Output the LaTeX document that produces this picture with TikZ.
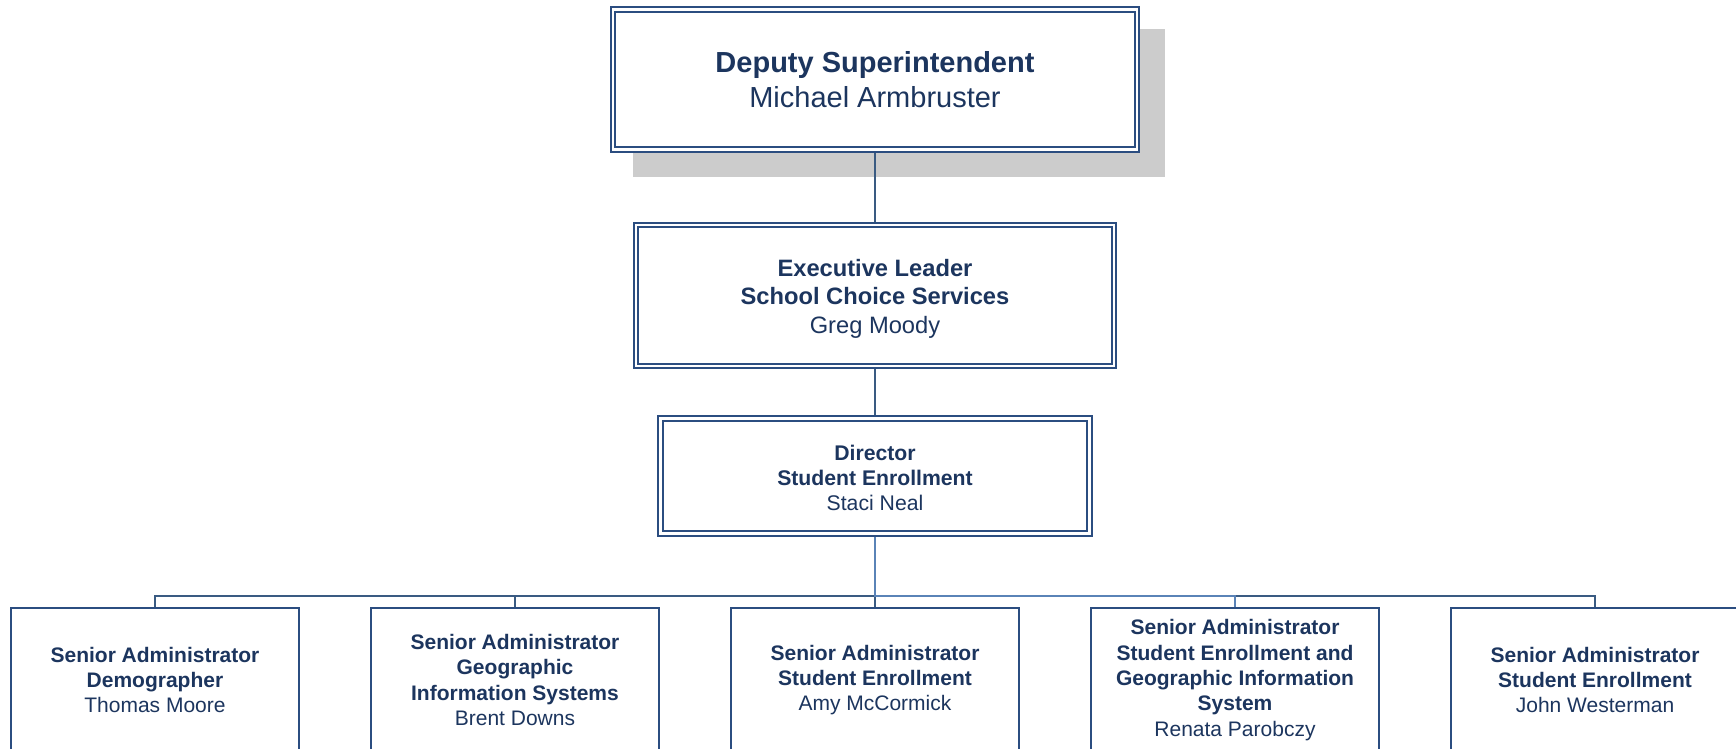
\documentclass[tikz,border=0pt]{standalone}
\usepackage{fontspec}
\setmainfont{Liberation Sans}
\usetikzlibrary{backgrounds}
\definecolor{boxblue}{HTML}{2B4D80}
\definecolor{txtblue}{HTML}{1C355E}
\definecolor{linedark}{HTML}{3A5B82}
\definecolor{linelight}{HTML}{5A83B7}
\definecolor{shadowgray}{HTML}{CCCCCC}
\begin{document}
\begin{tikzpicture}[x=0.5pt,y=-0.5pt,
  dbox/.style={draw=boxblue, double=white, line width=1pt, double distance=1.2pt,
    fill=white, align=center, text=txtblue, inner sep=0pt},
  sbox/.style={draw=boxblue, line width=1pt, fill=white, align=center, text=txtblue,
    minimum width=144pt, minimum height=72pt, inner sep=0pt,
    font=\fontsize{10.5}{12.65}\selectfont},
  conn/.style={draw=linedark, line width=0.8pt},
  connl/.style={draw=linelight, line width=0.8pt}]
\useasboundingbox (0,0) rectangle (1736,749);

\node[dbox, minimum width=262pt, minimum height=70pt, font=\fontsize{14.5}{17.5}\selectfont]
  (dep) at (875,79.5) {\textbf{Deputy Superintendent}\\Michael Armbruster};
\node[dbox, minimum width=239pt, minimum height=70.5pt, font=\fontsize{11.85}{14.25}\selectfont]
  (exe) at (875,295.5) {\rule{0pt}{11.5pt}\textbf{Executive Leader}\\\textbf{School Choice Services}\\Greg Moody};
\node[dbox, minimum width=214.5pt, minimum height=57.5pt, font=\fontsize{10.6}{12.5}\selectfont]
  (dir) at (875,476) {\rule{0pt}{9.5pt}\textbf{Director}\\\textbf{Student Enrollment}\\Staci Neal};

\node[sbox] (b1) at (155,680) {\textbf{Senior Administrator}\\\textbf{Demographer}\\Thomas Moore};
\node[sbox] (b2) at (515,680) {\textbf{Senior Administrator}\\\textbf{Geographic}\\\textbf{Information Systems}\\Brent Downs};
\node[sbox] (b3) at (875,680) {\textbf{Senior Administrator}\\\textbf{Student Enrollment}\\Amy McCormick};
\node[sbox] (b4) at (1235,680) {\textbf{Senior Administrator}\\\textbf{Student Enrollment and}\\\textbf{Geographic Information}\\\textbf{System}\\Renata Parobczy};
\node[sbox] (b5) at (1595,680) {\textbf{Senior Administrator}\\\textbf{Student Enrollment}\\John Westerman};

\coordinate (bus) at (875,596);

\begin{scope}[on background layer]
  \fill[shadowgray] ([shift={(21,21)}]dep.north west) rectangle ([shift={(27,27)}]dep.south east);
  \draw[conn] (dep.south) -- (exe.north);
  \draw[conn] (exe.south) -- (dir.north);
  \draw[conn] (b1.north) |- (bus) -| (b5.north);
  \draw[conn] (b2.north) -- (b2.north |- bus);
  \draw[conn] (bus) -- (b3.north);
  \draw[connl] (dir.south) -- (bus) -| (b4.north);
\end{scope}
\end{tikzpicture}
\end{document}
